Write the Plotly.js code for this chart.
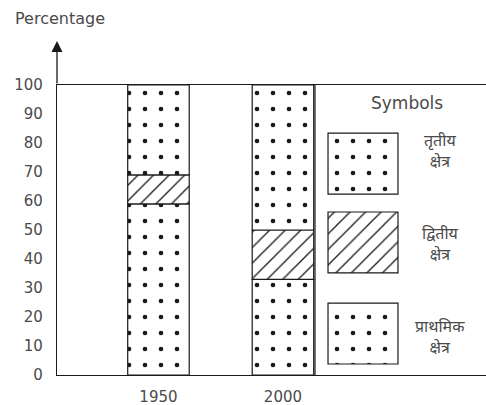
<!DOCTYPE html>
<html>
<head>
<meta charset="utf-8">
<script src="https://cdn.plot.ly/plotly-3.0.1.min.js"></script>
<style>html,body{margin:0;padding:0;background:#fff;}#chart{width:486px;height:405px;}</style>
</head>
<body>
<div id="chart"></div>
<script>
// ---- data ----
const years = ['1950', '2000'];
const primary = [59, 33];     // प्राथमिक क्षेत्र
const secondary = [10, 17];   // द्वितीय क्षेत्र
const tertiary = [31, 50];    // तृतीय क्षेत्र
const yTicks = [0, 10, 20, 30, 40, 50, 60, 70, 80, 90, 100];
const sectorLabels = ['तृतीय<br>क्षेत्र', 'द्वितीय<br>क्षेत्र', 'प्राथमिक<br>क्षेत्र'];

// ---- styling ----
const INK = '#1a1a1a';
const TXT = '#4a4a4a';
const FONT = 'DejaVu Sans, Liberation Sans, sans-serif';
const HFONT = 'Noto Sans Devanagari, Noto Sans, Lohit Devanagari, sans-serif';
const xpos = years.map((_, i) => i);
const BARW = 0.494;

const dots = {shape: '.', fgcolor: INK, bgcolor: '#fff', size: 16, solidity: 0.065, fillmode: 'replace'};
const hatch = {shape: '/', fgcolor: INK, bgcolor: '#fff', size: 11, solidity: 0.12, fillmode: 'replace'};
const outline = {color: INK, width: 1.2};

const base2 = primary.map((v, i) => v);
const base3 = primary.map((v, i) => v + secondary[i]);

function bar(y, base, pat) {
  return {type: 'bar', x: xpos, y: y, base: base, width: BARW,
    marker: {color: '#fff', pattern: pat, line: outline},
    hoverinfo: 'skip', showlegend: false};
}

// legend swatches (decoration, placed on the same axes)
const SW = {x: 1.643, w: 0.562, boxes: [[62.4, 21], [35.2, 21], [3.8, 21]]};
const swPats = [dots, hatch, dots];
const swatches = SW.boxes.map((b, i) => ({type: 'bar', x: [SW.x], y: [b[1]], base: [b[0]], width: SW.w,
  marker: {color: '#fff', pattern: swPats[i], line: outline}, hoverinfo: 'skip', showlegend: false}));

const data = [bar(primary, primary.map(() => 0), dots), bar(secondary, base2, hatch), bar(tertiary, base3, dots)].concat(swatches);

const labelY = [153, 246, 339];
const annotations = [
  {xref: 'paper', yref: 'paper', x: -0.1026, y: 1.231, xanchor: 'left', yanchor: 'middle', showarrow: false,
   text: 'Percentage', font: {family: FONT, size: 16, color: TXT}},
  {xref: 'paper', yref: 'paper', x: 0, y: 1.152, ax: 0, ay: 44, axref: 'pixel', ayref: 'pixel', showarrow: true,
   arrowhead: 2, arrowsize: 1.7, arrowwidth: 1.3, arrowcolor: INK, text: ''},
  {xref: 'paper', yref: 'paper', x: (407 - 57) / 429, y: 1 - (103 - 85) / 290, xanchor: 'center', yanchor: 'middle',
   showarrow: false, text: 'Symbols', font: {family: FONT, size: 17, color: TXT}}
].concat(sectorLabels.map((t, i) => ({xref: 'paper', yref: 'paper', x: (440 - 57) / 429, y: 1 - (labelY[i] - 85) / 290,
   xanchor: 'center', yanchor: 'middle', showarrow: false, text: t, align: 'center',
   font: {family: HFONT, size: 16, color: TXT}})));

const layout = {
  width: 486, height: 405,
  margin: {l: 57, r: 0, t: 85, b: 30, pad: 0},
  paper_bgcolor: '#fff', plot_bgcolor: '#fff',
  barmode: 'overlay',
  showlegend: false,
  xaxis: {range: [-0.815, 2.631], tickvals: xpos, ticktext: years, showgrid: false, zeroline: false,
    showline: true, mirror: true, linecolor: INK, linewidth: 1.2, ticks: 'outside', ticklen: 8, tickcolor: 'rgba(0,0,0,0)',
    tickfont: {family: FONT, size: 15, color: TXT}, fixedrange: true},
  yaxis: {range: [0, 100], tickvals: yTicks, showgrid: false, zeroline: false,
    showline: true, linecolor: INK, linewidth: 1.2, ticks: 'outside', ticklen: 10, tickcolor: 'rgba(0,0,0,0)',
    tickfont: {family: FONT, size: 15, color: TXT}, fixedrange: true},
  shapes: [{type: 'line', xref: 'paper', yref: 'paper', x0: (315 - 57) / 429, x1: (315 - 57) / 429, y0: 0, y1: 1,
    line: {color: INK, width: 1.2}}],
  annotations: annotations
};

Plotly.newPlot('chart', data, layout, {displayModeBar: false, staticPlot: true});
</script>
</body>
</html>
